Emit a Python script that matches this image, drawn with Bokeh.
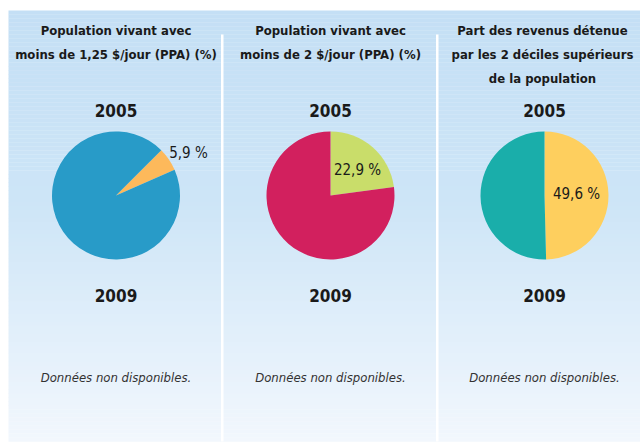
import numpy as np
from bokeh.plotting import figure
from bokeh.models import Range1d
from bokeh.core.properties import value
from bokeh.embed import file_html
from bokeh.resources import INLINE

# ---------------- data ----------------
panel_titles = [
    ["Population vivant avec", "moins de 1,25 $/jour (PPA) (%)"],
    ["Population vivant avec", "moins de 2 $/jour (PPA) (%)"],
    ["Part des revenus détenue", "par les 2 déciles supérieurs", "de la population"],
]
years = ["2005", "2009"]
values_2005 = [5.9, 22.9, 49.6]          # highlighted share, %
no_data_2009 = "Données non disponibles."
slice_colors = ["#fdb95b", "#c9dd6a", "#fecf5e"]
rest_colors = ["#289bc8", "#d2205e", "#1aaeaa"]

# ---------------- layout ----------------
W, H = 640, 445
def Y(py):
    return H - py

panel_cx = [115.5, 330.0, 542.0]
pie_cx = [115.5, 330.0, 544.0]
pie_cy = 195.0
radius = 64.0
start_deg = [45.0, 90.0, 90.0]
label_pos = [(188.0, 152.0), (357.0, 169.0), (576.0, 193.0)]

FONT = "DejaVu Sans Condensed"

p = figure(width=W, height=H, x_range=Range1d(0, W), y_range=Range1d(0, H),
           output_backend="svg", toolbar_location=None, min_border=0)
p.axis.visible = False
p.grid.visible = False
p.outline_line_color = None
p.background_fill_color = "white"
p.border_fill_color = "white"

# background gradient (decoration)
top, bottom = 10, 441
stops_y = [10, 200, 441]
stops_c = [(196, 223, 245), (205, 229, 247), (242, 247, 253)]
n = 108
edges = np.linspace(top, bottom, n + 1)
step = edges[1] - edges[0]
cols = []
for i in range(n):
    yy = (edges[i] + edges[i + 1]) / 2
    c = [int(round(np.interp(yy, stops_y, [s[k] for s in stops_c]))) for k in range(3)]
    cols.append("#%02x%02x%02x" % tuple(c))
p.quad(left=8, right=W, top=[Y(e) for e in edges[:-1]], bottom=[Y(e) - step - 0.3 for e in edges[:-1]],
       fill_color=cols, line_color=None)

# separators
p.quad(left=[220.5, 435.5], right=[223.0, 438.0], top=Y(34), bottom=Y(441),
       fill_color="white", line_color=None)

# pies
for i, v in enumerate(values_2005):
    s = np.deg2rad(start_deg[i])
    e = s - np.deg2rad(v * 3.6)
    p.wedge(x=pie_cx[i], y=Y(pie_cy), radius=radius, start_angle=e, end_angle=s,
            fill_color=slice_colors[i], line_color=None)
    p.wedge(x=pie_cx[i], y=Y(pie_cy), radius=radius, start_angle=s, end_angle=e + 2 * np.pi,
            fill_color=rest_colors[i], line_color=None)
    lx, ly = label_pos[i]
    p.text(x=[lx], y=[Y(ly)], text=[f"{v:.1f}".replace(".", ",") + " %"],
           text_font=value(FONT), text_font_size="15px", text_color="#1a1a1a",
           text_align="center", text_baseline="middle")

# titles
for i, lines in enumerate(panel_titles):
    for j, t in enumerate(lines):
        p.text(x=[panel_cx[i]], y=[Y(29.5 + j * 24)], text=[t],
               text_font=value(FONT), text_font_style="bold", text_font_size="13px",
               text_color="#1a1a1a", text_align="center", text_baseline="middle")
    p.text(x=[pie_cx[i]], y=[Y(110)], text=[years[0]],
           text_font=value(FONT), text_font_style="bold", text_font_size="17px",
           text_color="#1a1a1a", text_align="center", text_baseline="middle")
    p.text(x=[pie_cx[i]], y=[Y(295)], text=[years[1]],
           text_font=value(FONT), text_font_style="bold", text_font_size="17px",
           text_color="#1a1a1a", text_align="center", text_baseline="middle")
    p.text(x=[pie_cx[i]], y=[Y(377)], text=[no_data_2009],
           text_font=value(FONT), text_font_style="italic", text_font_size="13px",
           text_color="#333333", text_align="center", text_baseline="middle")

open("out.html", "w").write(file_html(p, INLINE))
